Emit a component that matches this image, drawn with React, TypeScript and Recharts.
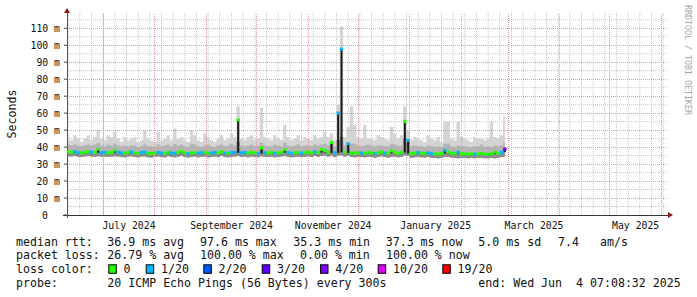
import React from 'react';
import {
  ComposedChart,
  Area,
  Scatter,
  ErrorBar,
  XAxis,
  YAxis,
  CartesianGrid,
  ReferenceLine,
} from 'recharts';

// ---- time axis (days counted from 2024-06-01) ----
const X_MIN = 8.3;
const X_MAX = 368.3;
const Y_MAX = 119;
const START_DAY = 9;
const STEP_DAYS = 2;

// ---- series (one value per RRD step) ----
const median = [
  37.2, 37.0, 37.3, 36.8, 36.6, 36.9, 37.4, 37.1, 36.8, 38.8,
  36.7, 37.0, 36.6, 36.8, 38.2, 37.0, 36.6, 36.4, 36.9, 37.2,
  36.5, 36.3, 36.8, 37.0, 36.4, 36.2, 36.7, 36.9, 36.5, 36.3,
  37.1, 36.6, 36.4, 36.8, 37.5, 36.6, 36.2, 36.5, 36.9, 36.4,
  36.7, 37.0, 36.3, 36.5, 36.9, 36.6, 37.2, 36.5, 36.4, 36.8,
  36.9, 56.0, 36.6, 36.8, 36.4, 37.0, 36.6, 36.3, 39.5, 36.7,
  36.5, 36.9, 36.3, 36.6, 37.0, 38.5, 36.8, 36.4, 36.6, 37.0,
  36.5, 36.7, 37.1, 36.6, 37.3, 36.8, 38.6, 38.0, 36.9, 42.7,
  36.6, 60.0, 97.8, 37.0, 42.0, 36.6, 36.3, 36.8, 36.5, 36.4,
  36.8, 36.5, 36.2, 36.6, 37.1, 36.5, 36.3, 37.8, 36.9, 36.4,
  36.8, 55.0, 44.0, 36.2, 36.5, 36.8, 36.4, 36.3, 36.6, 36.2,
  36.0, 35.9, 36.3, 38.2, 37.2, 36.4, 36.3, 37.0, 36.1, 36.0,
  35.8, 36.1, 35.9, 36.0, 36.2, 35.8, 35.9, 36.0, 37.2, 36.2, 37.0, 38.8,
];

const smokeLow = [
  34.6, 34.4, 34.7, 34.3, 34.2, 34.5, 34.8, 34.4, 34.3, 34.6,
  34.3, 34.5, 34.2, 34.4, 34.6, 34.5, 34.2, 34.0, 34.4, 34.6,
  34.1, 34.0, 34.4, 34.5, 34.0, 33.9, 34.3, 34.4, 34.1, 34.0,
  34.6, 34.2, 34.0, 34.3, 34.8, 34.2, 33.9, 34.1, 34.4, 34.0,
  34.3, 34.5, 34.0, 34.1, 34.4, 34.2, 34.7, 34.1, 34.0, 34.3,
  34.4, 34.8, 34.2, 34.4, 34.0, 34.5, 34.2, 34.0, 34.6, 34.3,
  34.1, 34.4, 34.0, 34.2, 34.5, 34.8, 34.3, 34.0, 34.2, 34.5,
  34.1, 34.3, 34.6, 34.2, 34.7, 34.3, 34.8, 35.0, 34.4, 35.0,
  34.2, 35.0, 35.2, 34.5, 35.0, 34.2, 34.0, 34.3, 34.1, 34.0,
  34.3, 34.1, 33.8, 34.2, 34.6, 34.1, 33.9, 34.3, 34.4, 34.0,
  34.3, 35.0, 35.0, 33.8, 34.0, 34.3, 34.0, 33.9, 34.1, 33.8,
  33.6, 33.5, 33.8, 34.3, 34.2, 33.9, 33.8, 33.5, 33.7, 33.6,
  33.4, 33.7, 33.5, 33.6, 33.8, 33.4, 33.5, 33.6, 33.4, 33.8, 34.2, 34.5,
];

const smokeUpper = [
  41.5, 41, 41.5, 41, 40.5, 41, 41.5, 41, 41.5, 42.5,
  41, 40.5, 41.5, 41, 42, 41, 40.5, 41, 40.5, 41,
  41, 40, 40.5, 41.5, 40.5, 40.5, 40, 41.5, 40.5, 41,
  41.5, 40.5, 42, 41, 41.5, 40.5, 40, 42, 41.5, 40.5,
  40, 41, 41.5, 40.5, 40, 41, 41.5, 40.5, 41, 42,
  41, 43, 41, 40.5, 41, 41.5, 40.5, 41, 42.5, 41,
  40.5, 40.5, 41.5, 41, 40.5, 42.5, 41, 40.5, 41, 41.5,
  40.5, 41, 41, 40.5, 41.5, 41, 41.5, 42, 41, 43,
  40.5, 44, 46, 41, 43, 42, 42, 41, 40.5, 41,
  41.5, 41, 40.5, 41, 41, 40.5, 40.5, 42, 41.5, 40.5,
  41, 45, 42.5, 40.5, 41, 40.5, 40.5, 40, 41, 40.5,
  40, 40.5, 40, 42, 42, 40.5, 40, 41, 40.5, 40.5,
  40, 40, 40.5, 40.5, 41.5, 40, 40.5, 40, 41, 40.5, 41, 43,
];

const smokeHigh = [
  46, 44, 47, 45, 43, 45, 47, 44, 46, 50,
  45, 44, 47, 46, 49, 45, 43, 46, 44, 45,
  46, 43, 44, 50, 45, 44, 43, 49, 44, 45,
  47, 44, 51, 45, 46, 44, 43, 50, 47, 44,
  43, 48, 46, 44, 43, 45, 47, 44, 45, 48,
  46, 64, 45, 44, 46, 47, 44, 45, 63, 46,
  45, 44, 47, 45, 44, 53, 46, 44, 45, 47,
  44, 46, 45, 44, 47, 45, 46, 49, 46, 48,
  44, 65, 111, 46, 52, 64, 53, 46, 45, 53,
  45, 45, 44, 47, 46, 45, 44, 52, 48, 45,
  47, 64, 50, 44, 46, 45, 44, 43, 47, 45,
  44, 46, 43, 55, 55, 45, 44, 55, 46, 45,
  44, 43, 46, 45, 45, 44, 45, 55, 46, 45, 47, 58,
];

const lossCount = [
  0, 0, 1, 1, 0, 0, 0, 1, 0, 0,
  1, 1, 0, 0, 0, 1, 1, 0, 0, 1,
  0, 0, 1, 1, 0, 0, 0, 1, 1, 0,
  0, 1, 1, 0, 0, 0, 1, 0, 0, 1,
  1, 0, 0, 1, 1, 0, 0, 1, 0, 1,
  1, 0, 1, 1, 0, 0, 0, 1, 0, 1,
  0, 0, 1, 0, 0, 0, 1, 1, 0, 0,
  1, 0, 0, 0, 1, 0, 0, 0, 0, 0,
  1, 1, 1, 0, 1, 0, 0, 0, 1, 0,
  0, 0, 1, 0, 0, 1, 0, 0, 0, 0,
  0, 0, 1, 0, 0, 1, 0, 0, 1, 1,
  0, 0, 0, 1, 0, 0, 0, 1, 0, 0,
  0, 0, 1, 0, 0, 0, 0, 0, 0, 0, 1, 3,
];

// ---- axis ticks / grid ----
const MONTH_LABELS = ['July 2024', 'September 2024', 'November 2024', 'January 2025', 'March 2025', 'May 2025'];
const MONTH_LABEL_DAYS = [45.5, 107, 168, 229.5, 288.5, 349.5];
const MONTH_STARTS = [30, 61, 92, 122, 153, 183, 214, 245, 273, 304, 334, 365];
const FIRST_MONDAY = 9;
const WEEK_LINES: number[] = [];
for (let d = FIRST_MONDAY; d <= X_MAX; d += 7) WEEK_LINES.push(d);
const Y_MAJOR = [0, 10, 20, 30, 40, 50, 60, 70, 80, 90, 100, 110];
const Y_MINOR = [5, 15, 25, 35, 45, 55, 65, 75, 85, 95, 105, 115];

// ---- legend ----
const LOSS_COLORS: Record<number, string> = {
  0: '#26ff00', 1: '#00b8ff', 2: '#0059ff', 3: '#5e00ff', 4: '#7e00ff', 10: '#dd00ff', 19: '#ff0000',
};
const LOSS_LEVELS = [0, 1, 2, 3, 4, 10, 19];
const LOSS_LABELS = ['0', '1/20', '2/20', '3/20', '4/20', '10/20', '19/20'];
const RTT_STATS = ['36.9 ms avg', '97.6 ms max', '35.3 ms min', '37.3 ms now', '5.0 ms sd', '7.4', 'am/s'];
const LOSS_STATS = ['26.79 % avg', '100.00 % max', '0.00 % min', '100.00 % now'];
const PROBE_TEXT = '20 ICMP Echo Pings (56 Bytes) every 300s';
const END_TEXT = 'end: Wed Jun  4 07:08:32 2025';

// layout / style
const W = 697;
const H = 297;
const PLOT_LEFT = 67;
const PLOT_RIGHT_MARGIN = 30;
const PLOT_W = W - PLOT_LEFT - PLOT_RIGHT_MARGIN;
const MONO = '"DejaVu Sans Mono", monospace';
const GRID_MINOR_COLOR = '#c6c6c6';
const GRID_MAJOR_V_COLOR = '#e69a9a';
const GRID_MAJOR_H_COLOR = '#e69a9a';
const RTT_X = [107.3, 200, 293.3, 385.7, 478.3, 558, 600];
const LOSS_X = [107.3, 200, 300, 386];
const BOX_X = [108.3, 145.7, 203.3, 261.7, 320, 377.7, 442.3];
const ROW_Y = [245.5, 259.4, 273.3, 287.2];

const n = median.length;
const table = median.map((m, i) => {
  const prev = i > 0 ? median[i - 1] : m;
  const next = i < n - 1 ? median[i + 1] : m;
  const base = Math.min(prev, next);
  return {
    day: START_DAY + STEP_DAYS * i,
    med: m,
    smoke: [smokeLow[i], smokeHigh[i]],
    upper: [smokeLow[i], smokeUpper[i]],
    dark: [smokeLow[i], Math.min(m, smokeUpper[i])],
    loss: lossCount[i],
    err: [m > base + 0.8 ? m - base : 0, 0],
  };
});

const MedianMark = (props: any) => {
  const { cx, cy, payload } = props;
  if (cx == null || cy == null) return null;
  const w = (STEP_DAYS * PLOT_W) / (X_MAX - X_MIN);
  return <rect x={cx - w / 2} y={cy - 1.5} width={w} height={3} fill={LOSS_COLORS[payload.loss]} />;
};

const YTick = (props: any) => {
  const { x, y, payload } = props;
  const v = payload.value;
  return (
    <text x={v === 0 ? x - 12 : x} y={y} dy={3.6} textAnchor="end" fontFamily={MONO} fontSize={9.8} fill="#111">
      {v === 0 ? '0' : `${v} m`}
    </text>
  );
};

const XTick = (props: any) => {
  const { x, y, index } = props;
  return (
    <text x={x} y={y + 13.5} textAnchor="middle" fontFamily={MONO} fontSize={9.8} fill="#111">
      {MONTH_LABELS[index]}
    </text>
  );
};

const XAxisArrow = (p: any) => {
  const y = p.y1;
  const xa = Math.min(p.x1, p.x2);
  const xb = Math.max(p.x1, p.x2);
  return (
    <g>
      <line x1={xa - 4} y1={y} x2={xb + 2} y2={y} stroke="#333" shapeRendering="crispEdges" />
      <path d={`M${xb + 1},${y - 3} L${xb + 6},${y} L${xb + 1},${y + 3} Z`} fill="#8b1a1a" />
    </g>
  );
};

const YAxisArrow = (p: any) => {
  const x = p.x1;
  const top = Math.min(p.y1, p.y2);
  const bottom = Math.max(p.y1, p.y2);
  return (
    <g>
      <line x1={x} y1={bottom + 3} x2={x} y2={top - 1} stroke="#555" shapeRendering="crispEdges" />
      <path d={`M${x - 3},${top} L${x},${top - 5} L${x + 3},${top} Z`} fill="#8b1a1a" />
    </g>
  );
};

export default function App() {
  return (
    <div style={{ position: 'absolute', left: 0, top: 0, width: W, height: H, background: '#fff' }}>
      <ComposedChart
        width={W}
        height={H}
        data={table}
        margin={{ top: 13, right: PLOT_RIGHT_MARGIN, bottom: 52, left: 0 }}
      >
        <CartesianGrid
          horizontalValues={Y_MINOR}
          verticalValues={WEEK_LINES}
          stroke={GRID_MINOR_COLOR}
          strokeDasharray="1 1"
        />
        <XAxis
          dataKey="day"
          type="number"
          domain={[X_MIN, X_MAX]}
          allowDataOverflow
          ticks={MONTH_LABEL_DAYS}
          tick={<XTick />}
          tickLine={false}
          axisLine={false}
          tickSize={0}
          tickMargin={0}
          height={30}
          interval={0}
        />
        <YAxis
          type="number"
          domain={[0, Y_MAX]}
          allowDataOverflow
          ticks={Y_MAJOR}
          tick={<YTick />}
          tickLine={{ stroke: '#444' }}
          tickSize={3}
          tickMargin={4}
          axisLine={false}
          width={PLOT_LEFT}
          interval={0}
        />
        {Y_MAJOR.filter((v) => v > 0).map((v) => (
          <ReferenceLine key={'my' + v} y={v} stroke={GRID_MAJOR_H_COLOR} strokeDasharray="1 1" shapeRendering="crispEdges" />
        ))}
        {MONTH_STARTS.map((d) => (
          <ReferenceLine key={'mx' + d} x={d} stroke={GRID_MAJOR_V_COLOR} strokeDasharray="1 1" shapeRendering="crispEdges" />
        ))}
        <Area type="step" dataKey="smoke" stroke="none" fill="#d4d4d4" fillOpacity={1} isAnimationActive={false} dot={false} activeDot={false} />
        <Area type="step" dataKey="upper" stroke="none" fill="#b4b4b4" fillOpacity={1} isAnimationActive={false} dot={false} activeDot={false} />
        <Area type="step" dataKey="dark" stroke="none" fill="#8c8c8c" fillOpacity={1} isAnimationActive={false} dot={false} activeDot={false} />
        <Scatter data={table} dataKey="med" shape={<MedianMark />} isAnimationActive={false}>
          <ErrorBar dataKey="err" direction="y" width={0} stroke="#1a1a1a" strokeWidth={2} isAnimationActive={false} />
        </Scatter>
        <ReferenceLine y={0} ifOverflow="visible" shape={<XAxisArrow />} />
        <ReferenceLine x={X_MIN} ifOverflow="visible" shape={<YAxisArrow />} />
      </ComposedChart>
      <svg
        width={W}
        height={H}
        style={{ position: 'absolute', left: 0, top: 0, pointerEvents: 'none' }}
        fontFamily={MONO}
      >
        <text transform="rotate(-90, 15.5, 114)" x={15.5} y={114} textAnchor="middle" fontSize={11.6} fill="#111">
          Seconds
        </text>
        <text transform="rotate(90, 685, 5)" x={685} y={5} textAnchor="start" fontSize={8.3} fill="#a8a8a8">
          RRDTOOL / TOBI OETIKER
        </text>
        <g fontSize={11.6} fill="#111" style={{ whiteSpace: 'pre' }}>
          <text x={16} y={ROW_Y[0]}>median rtt:</text>
          {RTT_STATS.map((s, i) => (
            <text key={'r' + i} x={RTT_X[i]} y={ROW_Y[0]}>{s}</text>
          ))}
          <text x={16} y={ROW_Y[1]}>packet loss:</text>
          {LOSS_STATS.map((s, i) => (
            <text key={'l' + i} x={LOSS_X[i]} y={ROW_Y[1]}>{s}</text>
          ))}
          <text x={16} y={ROW_Y[2]}>loss color:</text>
          {LOSS_LEVELS.map((lv, i) => (
            <g key={'b' + i}>
              <rect x={BOX_X[i] + 0.5} y={ROW_Y[2] - 8.5} width={7.5} height={8.5} fill={LOSS_COLORS[lv]} stroke="#000" strokeWidth={1} />
              <text x={BOX_X[i] + 15.3} y={ROW_Y[2]}>{LOSS_LABELS[i]}</text>
            </g>
          ))}
          <text x={16} y={ROW_Y[3]}>probe:</text>
          <text x={107.3} y={ROW_Y[3]}>{PROBE_TEXT}</text>
          <text x={478.3} y={ROW_Y[3]} xmlSpace="preserve">{END_TEXT}</text>
        </g>
      </svg>
    </div>
  );
}
